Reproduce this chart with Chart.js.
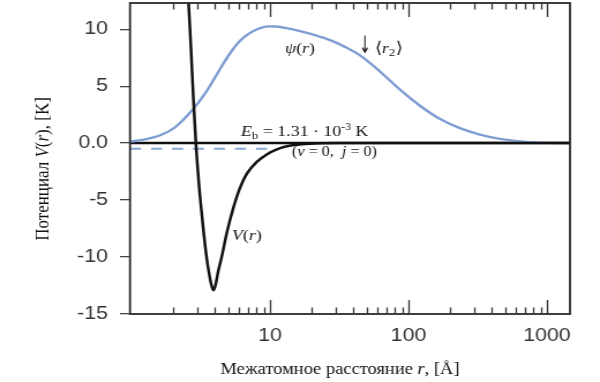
<!DOCTYPE html>
<html>
<head>
<meta charset="utf-8">
<script src="https://cdn.jsdelivr.net/npm/chart.js@4.4.1/dist/chart.umd.min.js"></script>
<style>
html,body{margin:0;padding:0;background:#fff;}
#c{display:block;width:600px;height:382px;}
</style>
</head>
<body>
<canvas id="c" width="520" height="382" style="width:600px;height:382px;"></canvas>
<script>
// ---- data ----
// interatomic distance r [Å] and potential V(r) [K]
const vR = [2.58, 2.69, 2.80, 2.92, 3.07, 3.26, 3.45, 3.66, 3.81, 3.91, 4.04, 4.21, 4.48, 4.87, 5.43, 6.07, 6.79, 8.02, 9.47, 11.2, 13.2, 15.6, 21.1, 32.0, 1466];
const vV = [12.35, 8.2, 3.8, -0.15, -3.67, -6.93, -9.66, -11.68, -12.65, -12.91, -12.47, -11.33, -9.98, -7.9, -5.7, -3.93, -2.70, -1.65, -0.99, -0.55, -0.28, -0.15, -0.04, 0, 0];
// wave function psi(r) (arbitrary units on same axis)
const psiR = [0.975, 1.25, 1.61, 2.06, 2.72, 3.39, 4.00, 4.72, 5.32, 5.87, 6.60, 7.41, 8.47, 9.67, 11.05, 12.83, 16.47, 21.13, 27.12, 34.8, 44.7, 62.3, 86.8, 121, 169, 235, 328, 458, 639, 890, 1466];
const psiV = [0.13, 0.33, 0.69, 1.39, 2.84, 4.34, 5.75, 7.20, 8.13, 8.79, 9.36, 9.78, 10.10, 10.25, 10.24, 10.11, 9.83, 9.48, 9.04, 8.45, 7.70, 6.28, 4.69, 3.28, 2.11, 1.31, 0.75, 0.37, 0.15, 0.04, 0];
// bound level (dashed)
const levelR = [0.975, 11.2];
const levelV = [-0.5, -0.5];
// axes
const xMin = 0.975, xMax = 1466;
const yMin = -15, yMax = 12.3;
const yTickVals = [-15, -10, -5, 0, 5, 10];
const yTickLabels = ['-15', '-10', '-5', '0.0', '5', '10'];
const xMajorTicks = [10, 100, 1000];
const xMajorLabels = ['10', '100', '1000'];
const xMinorTicks = [2,3,4,5,6,7,8,9,20,30,40,50,60,70,80,90,200,300,400,500,600,700,800,900];

const K = 600/520; // horizontal stretch of the original figure
const px = v => v / K;

const toPts = (xs, ys) => xs.map((x, i) => ({x, y: ys[i]}));

const SERIF = '"Liberation Serif", "Times New Roman", serif';
const SANS = '"Liberation Sans", Arial, sans-serif';

function drawRuns(ctx, parts, x, y, align) {
  let w = 0;
  parts.forEach(p => {
    ctx.font = `${p.i ? 'italic ' : ''}${p.wt ? p.wt + ' ' : ''}${p.s}px ${p.f || SERIF}`;
    p.w = ctx.measureText(p.t).width;
    w += p.w;
  });
  let cx = align === 'center' ? x - w / 2 : x;
  parts.forEach(p => {
    ctx.font = `${p.i ? 'italic ' : ''}${p.wt ? p.wt + ' ' : ''}${p.s}px ${p.f || SERIF}`;
    ctx.fillText(p.t, cx, y + (p.dy || 0));
    cx += p.w;
  });
  return w;
}

const deco = {
  id: 'deco',
  beforeDatasetsDraw(chart) {
    const {ctx, chartArea: a, scales: {y}} = chart;
    ctx.save();
    ctx.strokeStyle = '#111';
    ctx.lineWidth = 2.5;
    const y0 = y.getPixelForValue(0);
    ctx.beginPath(); ctx.moveTo(a.left, y0); ctx.lineTo(a.right, y0); ctx.stroke();
    ctx.restore();
  },
  afterDraw(chart) {
    const {ctx, chartArea: a, scales: {x}} = chart;
    ctx.save();
    // frame
    ctx.strokeStyle = '#2a2a2a';
    ctx.lineWidth = 1.8;
    ctx.strokeRect(a.left, a.top, a.right - a.left, a.bottom - a.top);
    // x ticks inside (bottom and top)
    ctx.strokeStyle = '#333';
    ctx.lineWidth = 1.3;
    const tick = (v, len) => {
      const p = Math.round(x.getPixelForValue(v)) + 0.5;
      ctx.beginPath();
      ctx.moveTo(p, a.bottom); ctx.lineTo(p, a.bottom - len);
      ctx.moveTo(p, a.top); ctx.lineTo(p, a.top + len);
      ctx.stroke();
    };
    xMinorTicks.forEach(v => tick(v, 6.5));
    xMajorTicks.forEach(v => tick(v, 14));

    // annotations
    ctx.fillStyle = '#111';
    ctx.textBaseline = 'alphabetic';
    drawRuns(ctx, [{t:'ψ', i:1, s:15.5}, {t:'(', s:15.5}, {t:'r', i:1, s:15.5}, {t:')', s:15.5}], px(285), 53);
    // narrow tall arrow
    ctx.save();
    ctx.translate(px(359), 53);
    ctx.scale(0.5, 1);
    ctx.font = '24px "DejaVu Sans", sans-serif';
    ctx.fillText('↓', 0, 0);
    ctx.restore();
    drawRuns(ctx, [{t:'⟨', s:15.5}, {t:'r', i:1, s:15.5}, {t:'2', s:11, dy:3}, {t:'⟩', s:15.5}], px(375), 53);
    drawRuns(ctx, [{t:'E', i:1, s:15.5}, {t:'b', s:11, dy:3}, {t:' = 1.31 · 10', s:15.5}, {t:'-3', s:10, dy:-6}, {t:' K', s:15.5}], px(241), 136);
    drawRuns(ctx, [{t:'(', s:14}, {t:'v', i:1, s:14}, {t:' = 0,  ', s:14}, {t:'j', i:1, s:14}, {t:' = 0)', s:14}], px(292), 156);
    drawRuns(ctx, [{t:'V', i:1, s:15.5}, {t:'(', s:15.5}, {t:'r', i:1, s:15.5}, {t:')', s:15.5}], px(232), 240);

    // axis titles
    ctx.fillStyle = '#111';
    drawRuns(ctx, [{t:'Межатомное расстояние ', s:16}, {t:'r', i:1, s:16}, {t:', [Å]', s:16}], px(340), 374, 'center');
    ctx.save();
    ctx.translate(px(49), 169);
    ctx.rotate(-Math.PI / 2);
    drawRuns(ctx, [{t:'Потенциал ', s:17}, {t:'V', i:1, s:17}, {t:'(', s:17}, {t:'r', i:1, s:17}, {t:'), [K]', s:17}], 0, 0, 'center');
    ctx.restore();
    ctx.restore();
  }
};

const chart = new Chart(document.getElementById('c'), {
  type: 'line',
  data: {
    datasets: [
      {
        label: 'level',
        data: toPts(levelR, levelV),
        borderColor: '#88a6d8',
        borderWidth: 2,
        borderDash: [px(11), px(10)],
        pointRadius: 0,
        order: 3
      },
      {
        label: 'ψ(r)',
        data: toPts(psiR, psiV),
        borderColor: '#7f9dd3',
        borderWidth: 2.4,
        cubicInterpolationMode: 'monotone',
        pointRadius: 0,
        order: 2
      },
      {
        label: 'V(r)',
        data: toPts(vR, vV),
        borderColor: '#111',
        borderWidth: 2.5,
        cubicInterpolationMode: 'monotone',
        pointRadius: 0,
        order: 1
      }
    ]
  },
  options: {
    responsive: false,
    animation: false,
    devicePixelRatio: 1,
    layout: {padding: {left: 0, right: 26, top: 3, bottom: 0}},
    plugins: {legend: {display: false}, tooltip: {enabled: false}},
    scales: {
      x: {
        type: 'logarithmic',
        position: 'bottom',
        min: xMin, max: xMax,
        grid: {display: false, drawTicks: false},
        border: {display: false},
        afterBuildTicks: s => { s.ticks = xMajorTicks.map(v => ({value: v})); },
        afterFit: s => { s.height = 68; s.paddingLeft = 0; s.paddingRight = 0; },
        ticks: {
          autoSkip: false, maxRotation: 0, padding: 11,
          color: '#333',
          font: {family: SANS, size: 18.5},
          callback: v => xMajorLabels[xMajorTicks.indexOf(v)] ?? ''
        }
      },
      y: {
        type: 'linear',
        position: 'left',
        min: yMin, max: yMax,
        grid: {drawOnChartArea: false, drawTicks: true, tickLength: px(10), color: '#444', lineWidth: 1.3},
        border: {display: false},
        afterBuildTicks: s => { s.ticks = yTickVals.map(v => ({value: v})); },
        afterFit: s => { s.width = px(130); s.paddingTop = 0; s.paddingBottom = 0; },
        ticks: {
          autoSkip: false, padding: px(12),
          color: '#333',
          font: {family: SANS, size: 18.5},
          callback: v => yTickLabels[yTickVals.indexOf(v)] ?? ''
        }
      }
    }
  },
  plugins: [deco]
});
const cv = document.getElementById('c');
cv.style.width = '600px';
cv.style.height = '382px';
</script>
</body>
</html>
